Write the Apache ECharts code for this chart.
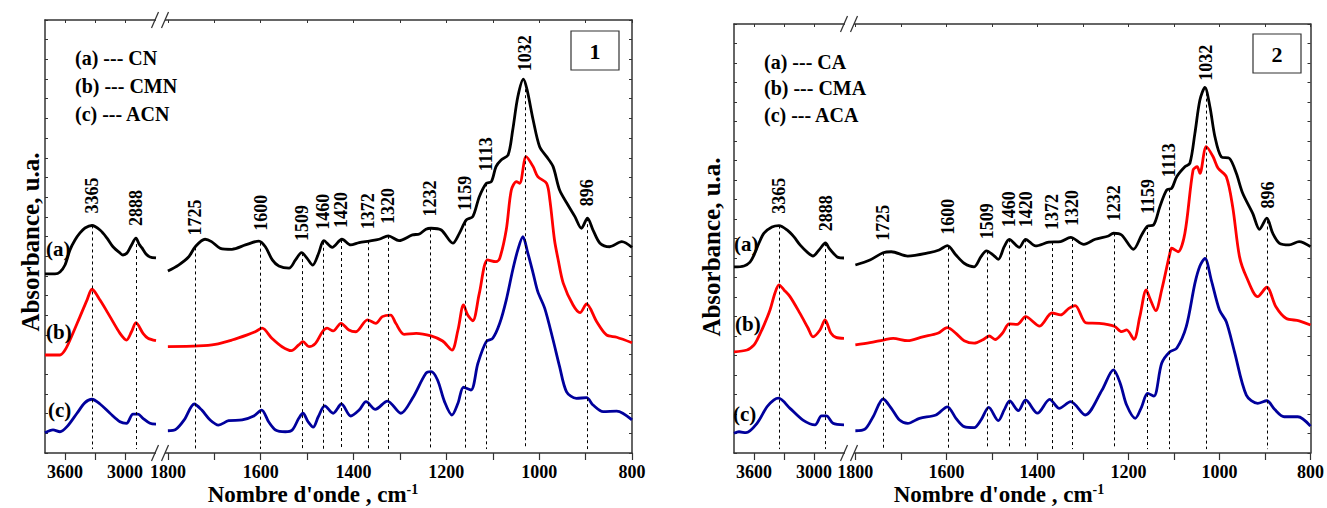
<!DOCTYPE html>
<html><head><meta charset="utf-8">
<script src="https://cdn.jsdelivr.net/npm/echarts@6/dist/echarts.min.js"></script>
<style>html,body{margin:0;padding:0;background:#fff}#c{width:1327px;height:508px}</style>
</head><body><div id="c"></div>
<script>
// ---------------- DATA (wavenumber cm-1, absorbance a.u.) ----------------
// Panel 1 : CN / CMN / ACN
const p1BlackL = [[3800,0.91],[3750,0.91],[3700,0.91],[3650,0.92],[3600,0.955],[3550,1.032],[3500,1.082],[3450,1.118],[3400,1.143],[3330,1.156],[3250,1.133],[3180,1.092],[3120,1.048],[3050,1.016],[3020,1.006],[2980,1.016],[2940,1.052],[2890,1.092],[2860,1.062],[2830,1.042],[2790,1.011],[2750,0.996],[2690,0.991]];
const p1RedL = [[3800,0.498],[3650,0.498],[3600,0.523],[3550,0.574],[3450,0.693],[3380,0.777],[3330,0.832],[3250,0.777],[3150,0.693],[3050,0.608],[2985,0.574],[2935,0.616],[2890,0.662],[2820,0.608],[2770,0.583],[2690,0.571]];
const p1BlueL = [[3800,0.103],[3720,0.117],[3650,0.108],[3580,0.134],[3480,0.202],[3400,0.256],[3330,0.273],[3250,0.249],[3150,0.202],[3050,0.159],[2985,0.151],[2920,0.198],[2870,0.198],[2820,0.176],[2750,0.151],[2690,0.147]];
const p1BlackR = [[1800,0.925],[1777,0.955],[1755,0.997],[1741,1.048],[1720,1.086],[1706,1.074],[1687,1.04],[1662,1.035],[1633,1.057],[1604,1.077],[1590,1.048],[1575,0.981],[1561,0.95],[1539,0.939],[1525,0.981],[1512,1.018],[1500,0.989],[1488,0.955],[1475,1.016],[1464,1.079],[1446,1.045],[1425,1.086],[1406,1.057],[1388,1.069],[1366,1.077],[1345,1.086],[1325,1.103],[1302,1.079],[1273,1.108],[1258,1.113],[1244,1.137],[1233,1.142],[1211,1.133],[1186,1.066],[1172,1.116],[1157,1.184],[1143,1.201],[1129,1.302],[1114,1.37],[1103,1.379],[1093,1.455],[1082,1.489],[1067,1.514],[1057,1.641],[1046,1.81],[1034,1.899],[1026,1.845],[1013,1.692],[999,1.556],[984,1.506],[970,1.455],[956,1.336],[938,1.26],[923,1.201],[909,1.142],[896,1.193],[884,1.133],[869,1.066],[848,1.048],[822,1.074],[800,1.045]];
const p1RedR = [[1800,0.54],[1734,0.544],[1698,0.552],[1662,0.574],[1629,0.6],[1612,0.616],[1597,0.634],[1576,0.583],[1554,0.54],[1534,0.52],[1518,0.549],[1509,0.566],[1496,0.54],[1482,0.557],[1467,0.616],[1457,0.634],[1444,0.62],[1427,0.659],[1410,0.625],[1395,0.616],[1370,0.676],[1352,0.659],[1338,0.693],[1320,0.701],[1309,0.659],[1291,0.603],[1265,0.608],[1233,0.595],[1208,0.569],[1188,0.523],[1175,0.625],[1163,0.752],[1154,0.701],[1143,0.672],[1129,0.811],[1111,0.981],[1093,0.972],[1085,0.989],[1071,1.133],[1060,1.336],[1049,1.379],[1042,1.37],[1028,1.506],[1013,1.455],[1003,1.404],[984,1.37],[977,1.286],[967,1.082],[959,0.981],[948,0.862],[927,0.752],[912,0.713],[898,0.757],[876,0.667],[855,0.6],[833,0.588],[800,0.56]];
const p1BlueR = [[1800,0.113],[1783,0.12],[1765,0.168],[1743,0.249],[1727,0.218],[1709,0.168],[1691,0.142],[1669,0.164],[1640,0.168],[1615,0.188],[1598,0.218],[1583,0.159],[1568,0.117],[1547,0.108],[1532,0.117],[1518,0.176],[1509,0.202],[1498,0.159],[1487,0.131],[1476,0.184],[1462,0.239],[1444,0.202],[1426,0.249],[1406,0.188],[1388,0.218],[1373,0.261],[1353,0.222],[1327,0.264],[1298,0.202],[1273,0.278],[1244,0.405],[1233,0.413],[1219,0.371],[1204,0.261],[1188,0.193],[1175,0.253],[1163,0.334],[1147,0.32],[1132,0.456],[1114,0.566],[1100,0.583],[1085,0.659],[1071,0.777],[1057,0.93],[1046,1.032],[1035,1.099],[1025,1.021],[1013,0.913],[1003,0.82],[988,0.735],[970,0.574],[956,0.439],[941,0.311],[920,0.278],[898,0.281],[884,0.244],[862,0.21],[833,0.213],[800,0.168]];
// Panel 2 : CA / CMA / ACA
const p2BlackL = [[3800,0.954],[3700,0.959],[3640,0.979],[3600,1.015],[3550,1.077],[3500,1.127],[3420,1.159],[3350,1.166],[3270,1.144],[3200,1.108],[3140,1.067],[3060,1.026],[3010,1.01],[2950,1.041],[2885,1.077],[2850,1.051],[2800,1.021],[2760,1.003],[2700,1.0]];
const p2RedL = [[3800,0.519],[3670,0.528],[3600,0.554],[3570,0.579],[3500,0.656],[3440,0.733],[3390,0.821],[3350,0.862],[3300,0.836],[3240,0.802],[3140,0.716],[3060,0.641],[3010,0.596],[2940,0.631],[2890,0.682],[2830,0.614],[2780,0.593],[2700,0.588]];
const p2BlueL = [[3800,0.101],[3750,0.109],[3680,0.104],[3570,0.152],[3470,0.237],[3400,0.272],[3355,0.281],[3240,0.229],[3110,0.169],[2990,0.144],[2925,0.19],[2875,0.19],[2810,0.152],[2700,0.144]];
const p2BlackR = [[1800,0.964],[1768,0.99],[1739,1.027],[1721,1.032],[1685,1.01],[1637,1.027],[1616,1.041],[1598,1.063],[1579,1.015],[1561,0.973],[1539,0.955],[1524,1.007],[1512,1.037],[1497,1.015],[1486,0.993],[1473,1.058],[1462,1.096],[1440,1.055],[1426,1.096],[1404,1.062],[1375,1.081],[1349,1.084],[1327,1.106],[1298,1.07],[1273,1.096],[1244,1.113],[1233,1.127],[1215,1.118],[1189,1.045],[1171,1.118],[1158,1.164],[1145,1.169],[1131,1.263],[1116,1.349],[1105,1.357],[1094,1.417],[1076,1.468],[1065,1.486],[1054,1.639],[1043,1.81],[1032,1.875],[1021,1.776],[1010,1.622],[996,1.519],[978,1.511],[963,1.434],[949,1.332],[927,1.229],[912,1.147],[896,1.204],[883,1.127],[868,1.075],[847,1.067],[825,1.084],[800,1.058]];
const p2RedR = [[1800,0.554],[1768,0.566],[1739,0.579],[1717,0.588],[1685,0.576],[1652,0.596],[1619,0.614],[1598,0.643],[1579,0.614],[1561,0.576],[1539,0.563],[1521,0.579],[1506,0.6],[1493,0.582],[1477,0.614],[1462,0.662],[1444,0.66],[1426,0.699],[1395,0.651],[1368,0.718],[1349,0.708],[1331,0.742],[1317,0.756],[1293,0.667],[1264,0.665],[1231,0.65],[1215,0.622],[1204,0.631],[1188,0.583],[1175,0.699],[1161,0.836],[1153,0.793],[1140,0.73],[1127,0.836],[1109,1.024],[1105,1.05],[1091,1.032],[1076,1.127],[1058,1.451],[1049,1.468],[1043,1.434],[1029,1.571],[1014,1.519],[1003,1.46],[985,1.417],[971,1.263],[956,1.007],[941,0.904],[916,0.802],[896,0.85],[876,0.75],[854,0.691],[825,0.678],[800,0.656]];
const p2BlueR = [[1800,0.114],[1779,0.122],[1761,0.186],[1739,0.277],[1721,0.229],[1703,0.169],[1685,0.152],[1659,0.178],[1623,0.195],[1598,0.237],[1579,0.178],[1561,0.135],[1539,0.13],[1524,0.169],[1507,0.234],[1486,0.166],[1473,0.221],[1461,0.267],[1442,0.217],[1426,0.272],[1400,0.204],[1373,0.275],[1352,0.229],[1327,0.263],[1295,0.195],[1258,0.323],[1233,0.426],[1218,0.357],[1204,0.246],[1185,0.178],[1171,0.237],[1158,0.306],[1144,0.292],[1127,0.46],[1109,0.519],[1094,0.537],[1073,0.648],[1054,0.87],[1043,0.959],[1032,0.998],[1018,0.887],[1000,0.733],[985,0.673],[967,0.519],[941,0.297],[916,0.255],[896,0.268],[879,0.224],[858,0.186],[828,0.186],[800,0.138]];

// Peak marker positions (where the dashed lines sit) and their labels
const p1PeaksL = [3330, 2890];
const p1PeaksR = [1742, 1600, 1511, 1465, 1427, 1369, 1325, 1235, 1160, 1114, 1031, 896];
const p2PeaksL = [3350, 2884];
const p2PeaksR = [1739, 1596, 1510, 1462, 1426, 1368, 1324, 1232, 1158, 1111, 1029, 894];
const peakLabelsL = ['3365', '2888'];
const peakLabelsR = ['1725', '1600', '1509', '1460', '1420', '1372', '1320', '1232', '1159', '1113', '1032', '896'];

// Axis ticks / labels
const ticksL = [3600, 3300, 3000];
const labelsL = [3600, 3000];
const ticksR = [1800, 1700, 1600, 1500, 1400, 1300, 1200, 1100, 1000, 900, 800];
const labelsR = [1800, 1600, 1400, 1200, 1000, 800];

const curveNames1 = ['(a) --- CN', '(b) --- CMN', '(c) --- ACN'];
const curveNames2 = ['(a) --- CA', '(b) --- CMA', '(c) --- ACA'];
const curveTags = ['(a)', '(b)', '(c)'];
const panelNumbers = ['1', '2'];
const yTitle = 'Absorbance, u.a.';
const xTitle = "Nombre d'onde , cm";

// ---------------- CHART ----------------
const SERIF = '"Liberation Serif","Times New Roman",Times,serif';
const AX = '#333';
const COLORS = ['#000000', '#ff0000', '#00009c'];

function interp(arr, w) {
  for (let i = 0; i < arr.length - 1; i++) {
    const a = arr[i], b = arr[i + 1];
    if (w <= a[0] && w >= b[0]) {
      const t = (a[0] - w) / (a[0] - b[0]);
      return a[1] + (b[1] - a[1]) * t;
    }
  }
  return arr[arr.length - 1][1];
}

const option = {
  animation: false, backgroundColor: '#fff',
  grid: [], xAxis: [], yAxis: [], series: [], graphic: []
};

function addSegment(cfg) {
  const gi = option.grid.length;
  option.grid.push({ left: cfg.left, top: cfg.top, width: cfg.width, height: cfg.height });
  const xb = option.xAxis.length;
  const common = {
    type: 'value', gridIndex: gi, min: cfg.min, max: cfg.max, inverse: true,
    splitLine: { show: false },
    axisLine: { show: true, onZero: false, lineStyle: { color: AX, width: 1.5 } }
  };
  option.xAxis.push(Object.assign({}, common, {
    position: 'bottom',
    axisTick: { show: true, inside: false, length: 7, customValues: cfg.ticks, lineStyle: { color: AX, width: 1.2 } },
    axisLabel: { show: true, customValues: cfg.labels, margin: 10, formatter: v => String(v),
      color: '#000', fontFamily: SERIF, fontWeight: 'bold', fontSize: 18 }
  }));
  option.xAxis.push(Object.assign({}, common, {
    position: 'top',
    axisTick: { show: true, inside: true, length: 3, customValues: cfg.ticks, lineStyle: { color: AX, width: 1 } },
    axisLabel: { show: false }
  }));
  const yi = option.yAxis.length;
  option.yAxis.push({
    type: 'value', gridIndex: gi, min: 0, max: 2.2, interval: 0.1, position: cfg.yPos,
    splitLine: { show: false },
    axisLine: { show: true, onZero: false, lineStyle: { color: AX, width: 1.5 } },
    axisTick: { show: true, inside: true, length: 3, lineStyle: { color: AX, width: 1 } },
    axisLabel: { show: false }
  });
  const black = cfg.curves[0];
  cfg.curves.forEach((data, k) => {
    const s = {
      type: 'line', xAxisIndex: xb, yAxisIndex: yi, data: data, showSymbol: false, symbol: 'none',
      smooth: 0.3, silent: true, z: 5 - k,
      lineStyle: { color: COLORS[k], width: 2.8 }, itemStyle: { color: COLORS[k] }
    };
    if (k === 0) {
      s.markLine = {
        silent: true, symbol: ['none', 'none'], label: { show: false },
        lineStyle: { type: [3, 3], color: '#000', width: 1 },
        data: cfg.peaks.map(w => [{ coord: [w, interp(black, w)] }, { coord: [w, 0.02] }])
      };
    }
    option.series.push(s);
  });
  option.series.push({
    type: 'scatter', xAxisIndex: xb, yAxisIndex: yi, silent: true, symbolSize: 0, z: 10,
    itemStyle: { color: '#000', opacity: 1 },
    data: cfg.peaks.map((w, i) => ({ name: cfg.peakLabels[i], value: [w, interp(black, w)] })),
    label: {
      show: true, formatter: '{b}', position: 'top', distance: 12, rotate: 90,
      align: 'left', verticalAlign: 'middle', opacity: 1,
      textBorderWidth: 0, textBorderColor: 'transparent', textShadowBlur: 0,
      color: '#000', fontFamily: SERIF, fontWeight: 'bold', fontSize: 18
    }
  });
}

function addPanel(p) {
  addSegment({ left: p.left, top: p.top, width: p.wL, height: p.height, min: 2650, max: 3800,
    ticks: ticksL, labels: labelsL, yPos: 'left', curves: p.curvesL, peaks: p.peaksL, peakLabels: peakLabelsL });
  addSegment({ left: p.left + p.wL, top: p.top, width: p.wR, height: p.height, min: 800, max: p.maxR,
    ticks: ticksR, labels: labelsR, yPos: 'right', curves: p.curvesR, peaks: p.peaksR, peakLabels: peakLabelsR });
  const g = option.graphic;
  const txt = (x, y, text, size, extra) => Object.assign({
    type: 'text', x: x, y: y, z: 100,
    style: { text: text, fill: '#000', fontFamily: SERIF, fontWeight: 'bold', fontSize: size,
      align: 'left', verticalAlign: 'middle', textAlign: 'left', textVerticalAlign: 'middle' }
  }, extra || {});
  // legend lines
  p.names.forEach((n, i) => g.push(txt(p.legX, p.legY[i], n, 20)));
  // curve tags
  curveTags.forEach((t, i) => g.push(txt(p.tagX[i], p.tagY[i], t, 21)));
  // panel number box
  g.push({ type: 'rect', z: 100, shape: { x: p.box[0], y: p.box[1], width: 48, height: 39 },
    style: { fill: '#fff', stroke: '#333', lineWidth: 1.2 } });
  g.push(txt(p.box[0] + 24, p.box[1] + 20, p.num, 22,
    { style: { text: p.num, fill: '#000', fontFamily: SERIF, fontWeight: 'bold', fontSize: 22,
      align: 'center', verticalAlign: 'middle', textAlign: 'center', textVerticalAlign: 'middle' } }));
  // y title
  g.push({ type: 'text', x: p.yTitleX, y: p.yTitleY, rotation: Math.PI / 2, z: 100,
    style: { text: yTitle, fill: '#000', fontFamily: SERIF, fontWeight: 'bold', fontSize: 25,
      align: 'center', verticalAlign: 'middle', textAlign: 'center', textVerticalAlign: 'middle' } });
  // x title with superscript
  g.push({ type: 'text', x: p.xTitleX, y: 494, z: 100,
    style: { text: '{m|' + xTitle + '}{s|-1}', fill: '#000', fontFamily: SERIF, fontWeight: 'bold', fontSize: 23,
      align: 'center', verticalAlign: 'middle', textAlign: 'center', textVerticalAlign: 'middle',
      rich: { m: { fontFamily: SERIF, fontWeight: 'bold', fontSize: 23, lineHeight: 24 },
              s: { fontFamily: SERIF, fontWeight: 'bold', fontSize: 14, verticalAlign: 'top', lineHeight: 14 } } } });
  // axis break marks
  const bx = p.left + p.wL;
  [[p.top, 8], [p.top + p.height, 8]].forEach(([yy, h]) => {
    g.push({ type: 'rect', z: 99, shape: { x: bx - 4, y: yy - 2, width: 9, height: 4 }, style: { fill: '#fff' } });
    [-5, 5].forEach(dx => g.push({ type: 'line', z: 100,
      shape: { x1: bx + dx - 3.5, y1: yy + h, x2: bx + dx + 3.5, y2: yy - h },
      style: { stroke: '#333', lineWidth: 1.2 } }));
  });
}

addPanel({ left: 45, top: 20, height: 433, wL: 115, wR: 472, maxR: 1817,
  curvesL: [p1BlackL, p1RedL, p1BlueL], curvesR: [p1BlackR, p1RedR, p1BlueR],
  peaksL: p1PeaksL, peaksR: p1PeaksR, names: curveNames1, num: panelNumbers[0],
  legX: 75, legY: [58, 86, 114], tagX: [46, 46, 48], tagY: [249, 332, 410],
  box: [571, 31], yTitleX: 30, yTitleY: 242, xTitleX: 313 });
addPanel({ left: 734, top: 24, height: 429, wL: 115, wR: 464, maxR: 1814,
  curvesL: [p2BlackL, p2RedL, p2BlueL], curvesR: [p2BlackR, p2RedR, p2BlueR],
  peaksL: p2PeaksL, peaksR: p2PeaksR, names: curveNames2, num: panelNumbers[1],
  legX: 764, legY: [62, 88, 115], tagX: [734, 735, 733], tagY: [244, 324, 414],
  box: [1253, 34], yTitleX: 711, yTitleY: 247, xTitleX: 999 });

const chart = echarts.init(document.getElementById('c'), null, { renderer: 'svg', width: 1327, height: 508 });
chart.setOption(option);
</script></body></html>
